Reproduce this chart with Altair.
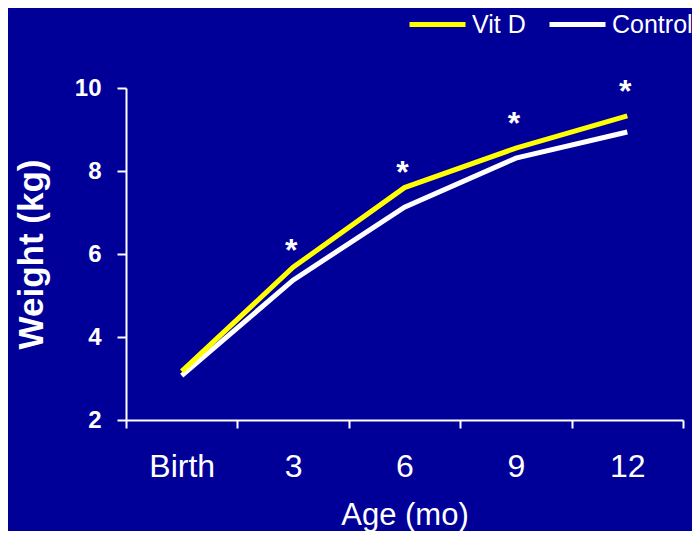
import altair as alt
import pandas as pd

ages = ["Birth", "3", "6", "9", "12"]
vit_d = [3.17, 5.68, 7.60, 8.55, 9.33]
control = [3.07, 5.37, 7.13, 8.31, 8.94]
star_ages = ["3", "6", "9", "12"]
star_y = [6.19, 8.08, 9.25, 10.03]
series = ["Vit D", "Control"]
colors = ["#ffff00", "#ffffff"]
y_ticks = [2, 4, 6, 8, 10]

rows = []
for a, v in zip(ages, control):
    rows.append({"age": a, "weight": v, "group": "Control"})
for a, v in zip(ages, vit_d):
    rows.append({"age": a, "weight": v, "group": "Vit D"})
df = pd.DataFrame(rows)
stars = pd.DataFrame({"age": star_ages, "weight": star_y})

FONT = "Liberation Sans"

x_enc = alt.X(
    "age:N",
    sort=ages,
    bandPosition=0.5,
    scale=alt.Scale(type="band", domain=ages, paddingInner=0, paddingOuter=0),
    axis=alt.Axis(
        title="Age (mo)", labelAngle=0, tickBand="extent", tickSize=8,
        labelPadding=23, labelFontSize=32, labelFontWeight="normal",
        titleFontSize=31, titleFontWeight="normal", titleY=80, titleBaseline="top",
    ),
)
y_enc = alt.Y(
    "weight:Q",
    scale=alt.Scale(domain=[2, 10], nice=False, zero=False),
    axis=alt.Axis(
        title="Weight (kg)", values=y_ticks, tickSize=9, labelPadding=16,
        labelFontSize=24, labelFontWeight="bold", titleFontSize=35,
        titleFontWeight="bold", titleX=-84, titleY=166, titleAngle=270,
        titleBaseline="alphabetic", titleAlign="center",
    ),
)

lines = alt.Chart(df).mark_line(strokeWidth=5).encode(
    x=x_enc,
    y=y_enc,
    color=alt.Color(
        "group:N",
        scale=alt.Scale(domain=series, range=colors),
        legend=alt.Legend(
            title=None, orient="none", legendX=281, legendY=-94,
            direction="horizontal", symbolType="stroke", symbolSize=3136,
            symbolStrokeWidth=5, labelFontSize=25, labelColor="white",
            labelFont=FONT, labelOffset=4, columnPadding=13, padding=0,
            gridAlign="none",
        ),
    ),
)

star_text = alt.Chart(stars).mark_text(
    text="*", font=FONT, fontSize=32, fontWeight="bold", color="white",
    dy=15, dx=-2, baseline="alphabetic", align="center",
).encode(x=x_enc, y=y_enc)

chart = (
    alt.layer(lines, star_text)
    .properties(
        width=557, height=332,
        padding={"left": 118, "top": 80, "right": 9, "bottom": 111},
        autosize=alt.AutoSizeParams(type="none"),
        background="#000099",
    )
    .configure_view(stroke=None)
    .configure_axis(
        grid=False, domainColor="white", domainWidth=2, tickColor="white",
        tickWidth=2, labelColor="white", titleColor="white",
        labelFont=FONT, titleFont=FONT,
    )
)

chart.save("out.html", embed_options={"renderer": "svg", "actions": False})
